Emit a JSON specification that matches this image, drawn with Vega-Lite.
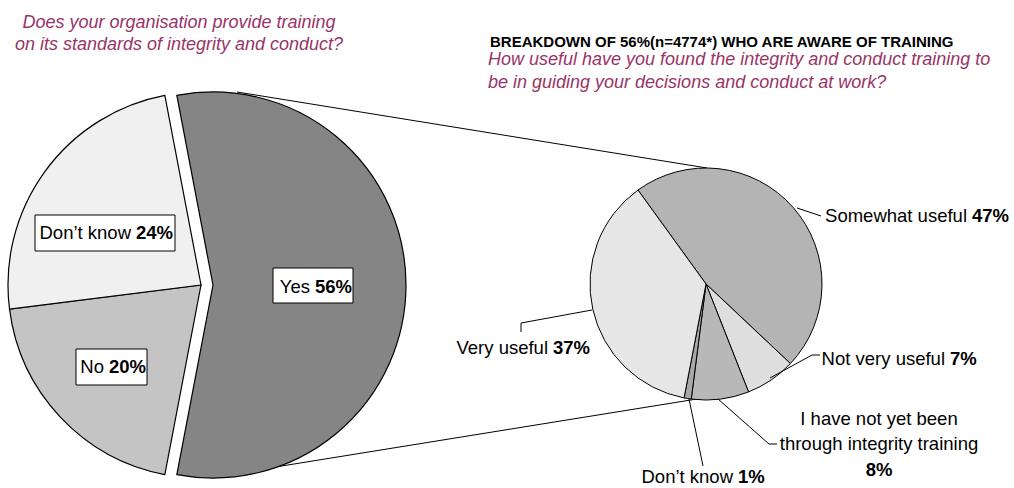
{
  "$schema": "https://vega.github.io/schema/vega-lite/v6.json",
  "width": 1014,
  "height": 488,
  "autosize": {"type": "fit", "contains": "padding"},
  "padding": 0,
  "background": "white",
  "config": {"view": {"stroke": null}, "font": "Liberation Sans", "rule": {"color": "black", "strokeWidth": 1}, "text": {"font": "Liberation Sans", "fontSize": 18.5, "color": "black", "baseline": "alphabetic"}},
  "datasets": {
    "aware": [
      {"answer": "Yes", "share": 0.56, "ord": 1},
      {"answer": "No", "share": 0.20, "ord": 2},
      {"answer": "Don’t know", "share": 0.24, "ord": 3}
    ],
    "useful": [
      {"answer": "Somewhat useful", "share": 0.47, "ord": 1},
      {"answer": "Not very useful", "share": 0.07, "ord": 2},
      {"answer": "I have not yet been\nthrough integrity training", "share": 0.08, "ord": 3},
      {"answer": "Don’t know", "share": 0.01, "ord": 4},
      {"answer": "Very useful", "share": 0.37, "ord": 5}
    ],
    "blank": [{}]
  },
  "layer": [
    {"data": {"name": "blank"}, "mark": "rule", "encoding": {"x": {"value": 237}, "y": {"value": 92}, "x2": {"value": 707}, "y2": {"value": 168}}},
    {"data": {"name": "blank"}, "mark": "rule", "encoding": {"x": {"value": 263}, "y": {"value": 469}, "x2": {"value": 697}, "y2": {"value": 399}}},
    {
      "data": {"name": "aware"},
      "encoding": {
        "theta": {"field": "share", "type": "quantitative", "stack": true, "scale": {"range": [-0.1885, 6.0947]}},
        "order": {"field": "ord", "type": "quantitative"},
        "color": {"field": "answer", "type": "nominal", "legend": null,
          "scale": {"domain": ["Yes", "No", "Don’t know"], "range": ["#858585", "#c4c4c4", "#f0f0f0"]}}
      },
      "layer": [
        {"mark": {"type": "arc", "x": 201, "y": 285, "outerRadius": 193, "stroke": "black", "strokeWidth": 1.2},
         "encoding": {"opacity": {"condition": {"test": "datum.answer !== 'Yes'", "value": 1}, "value": 0}}},
        {"mark": {"type": "arc", "x": 213, "y": 285, "outerRadius": 193, "stroke": "black", "strokeWidth": 1.2},
         "encoding": {"opacity": {"condition": {"test": "datum.answer === 'Yes'", "value": 1}, "value": 0}}}
      ]
    },
    {
      "data": {"name": "useful"},
      "encoding": {
        "theta": {"field": "share", "type": "quantitative", "stack": true, "scale": {"range": [-0.6266, 5.6566]}},
        "order": {"field": "ord", "type": "quantitative"},
        "color": {"field": "answer", "type": "nominal", "legend": null,
          "scale": {"domain": ["Somewhat useful", "Not very useful", "I have not yet been\nthrough integrity training", "Don’t know", "Very useful"],
                    "range": ["#b4b4b4", "#dedede", "#b8b8b8", "#a8a8a8", "#e6e6e6"]}}
      },
      "mark": {"type": "arc", "x": 706, "y": 284, "outerRadius": 116, "stroke": "black", "strokeWidth": 1}
    },
    {
      "data": {"name": "aware"},
      "transform": [{"filter": "datum.answer === 'Yes'"}],
      "layer": [
        {"mark": {"type": "rect", "x": 273, "x2": 353, "y": 268, "y2": 303, "fill": "white", "stroke": "black", "strokeWidth": 1}, "encoding": {}},
        {"mark": {"type": "text", "x": 310, "y": 293, "align": "right"}, "encoding": {"text": {"field": "answer"}}},
        {"mark": {"type": "text", "x": 315, "y": 293, "align": "left", "fontWeight": "bold"}, "encoding": {"text": {"field": "share", "format": ".0%"}}}
      ]
    },
    {
      "data": {"name": "aware"},
      "transform": [{"filter": "datum.answer === 'No'"}],
      "layer": [
        {"mark": {"type": "rect", "x": 76, "x2": 147, "y": 349, "y2": 385, "fill": "white", "stroke": "black", "strokeWidth": 1}, "encoding": {}},
        {"mark": {"type": "text", "x": 104, "y": 373, "align": "right"}, "encoding": {"text": {"field": "answer"}}},
        {"mark": {"type": "text", "x": 109, "y": 373, "align": "left", "fontWeight": "bold"}, "encoding": {"text": {"field": "share", "format": ".0%"}}}
      ]
    },
    {
      "data": {"name": "aware"},
      "transform": [{"filter": "datum.answer === 'Don’t know'"}],
      "layer": [
        {"mark": {"type": "rect", "x": 35, "x2": 175, "y": 215, "y2": 251, "fill": "white", "stroke": "black", "strokeWidth": 1}, "encoding": {}},
        {"mark": {"type": "text", "x": 131, "y": 239, "align": "right"}, "encoding": {"text": {"field": "answer"}}},
        {"mark": {"type": "text", "x": 136, "y": 239, "align": "left", "fontWeight": "bold"}, "encoding": {"text": {"field": "share", "format": ".0%"}}}
      ]
    },
    {
      "data": {"name": "useful"},
      "transform": [{"filter": "datum.ord === 1"}],
      "layer": [
        {"mark": "rule", "encoding": {"x": {"value": 797}, "y": {"value": 208}, "x2": {"value": 821}, "y2": {"value": 216}}},
        {"mark": {"type": "text", "x": 967, "y": 222, "align": "right"}, "encoding": {"text": {"field": "answer"}}},
        {"mark": {"type": "text", "x": 972, "y": 222, "align": "left", "fontWeight": "bold"}, "encoding": {"text": {"field": "share", "format": ".0%"}}}
      ]
    },
    {
      "data": {"name": "useful"},
      "transform": [{"filter": "datum.ord === 2"}],
      "layer": [
        {"mark": "rule", "encoding": {"x": {"value": 770}, "y": {"value": 378}, "x2": {"value": 812}, "y2": {"value": 355}}},
        {"mark": "rule", "encoding": {"x": {"value": 812}, "y": {"value": 355}, "x2": {"value": 820}, "y2": {"value": 355}}},
        {"mark": {"type": "text", "x": 945, "y": 365, "align": "right"}, "encoding": {"text": {"field": "answer"}}},
        {"mark": {"type": "text", "x": 950, "y": 365, "align": "left", "fontWeight": "bold"}, "encoding": {"text": {"field": "share", "format": ".0%"}}}
      ]
    },
    {
      "data": {"name": "useful"},
      "transform": [{"filter": "datum.ord === 3"}],
      "layer": [
        {"mark": "rule", "encoding": {"x": {"value": 718}, "y": {"value": 399}, "x2": {"value": 769}, "y2": {"value": 444}}},
        {"mark": "rule", "encoding": {"x": {"value": 769}, "y": {"value": 444}, "x2": {"value": 777}, "y2": {"value": 444}}},
        {"mark": {"type": "text", "x": 879, "y": 425, "align": "center", "lineBreak": "\n", "lineHeight": 25}, "encoding": {"text": {"field": "answer"}}},
        {"mark": {"type": "text", "x": 879, "y": 476, "align": "center", "fontWeight": "bold"}, "encoding": {"text": {"field": "share", "format": ".0%"}}}
      ]
    },
    {
      "data": {"name": "useful"},
      "transform": [{"filter": "datum.ord === 4"}],
      "layer": [
        {"mark": "rule", "encoding": {"x": {"value": 689}, "y": {"value": 399}, "x2": {"value": 703}, "y2": {"value": 466}}},
        {"mark": {"type": "text", "x": 733, "y": 483, "align": "right"}, "encoding": {"text": {"field": "answer"}}},
        {"mark": {"type": "text", "x": 738, "y": 483, "align": "left", "fontWeight": "bold"}, "encoding": {"text": {"field": "share", "format": ".0%"}}}
      ]
    },
    {
      "data": {"name": "useful"},
      "transform": [{"filter": "datum.ord === 5"}],
      "layer": [
        {"mark": "rule", "encoding": {"x": {"value": 592}, "y": {"value": 310}, "x2": {"value": 521}, "y2": {"value": 323}}},
        {"mark": "rule", "encoding": {"x": {"value": 521}, "y": {"value": 323}, "x2": {"value": 521}, "y2": {"value": 332}}},
        {"mark": {"type": "text", "x": 548, "y": 354, "align": "right"}, "encoding": {"text": {"field": "answer"}}},
        {"mark": {"type": "text", "x": 553, "y": 354, "align": "left", "fontWeight": "bold"}, "encoding": {"text": {"field": "share", "format": ".0%"}}}
      ]
    },
    {"data": {"name": "blank"}, "mark": {"type": "text", "x": 179, "y": 28, "align": "center", "fontSize": 18, "fontStyle": "italic", "color": "#993366", "lineHeight": 22,
      "text": ["Does your organisation provide training", "on its standards of integrity and conduct?"]}},
    {"data": {"name": "blank"}, "mark": {"type": "text", "x": 490, "y": 47, "align": "left", "fontSize": 15, "fontWeight": "bold", "color": "black",
      "text": "BREAKDOWN OF 56%(n=4774*) WHO ARE AWARE OF TRAINING"}},
    {"data": {"name": "blank"}, "mark": {"type": "text", "x": 488, "y": 65, "align": "left", "fontSize": 18, "fontStyle": "italic", "color": "#993366", "lineHeight": 23,
      "text": ["How useful have you found the integrity and conduct training to", "be in guiding your decisions and conduct at work?"]}}
  ],
  "resolve": {"scale": {"theta": "independent", "color": "independent"}}
}
